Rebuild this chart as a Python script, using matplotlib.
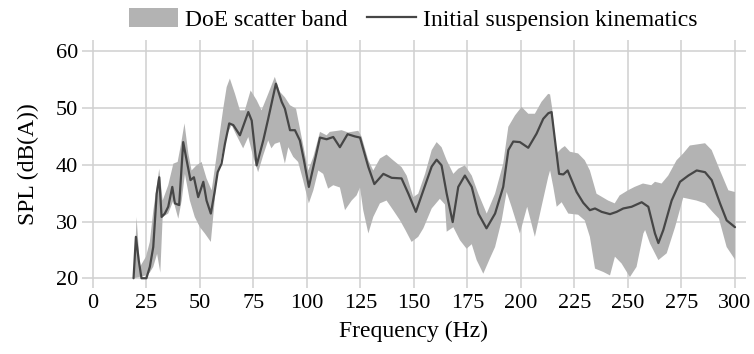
import numpy as np
import matplotlib
matplotlib.use("Agg")
import matplotlib.pyplot as plt
from matplotlib.patches import Patch
from matplotlib.lines import Line2D

# initial suspension kinematics (Hz, dB(A))
line_f = [19.0, 20.1, 21.4, 22.7, 25.0, 26.6, 28.2, 29.8, 31.0, 32.1, 33.6, 35.2, 37.1, 38.3,
          40.3, 42.2, 43.8, 45.6, 47.2, 49.2, 51.6, 53.1, 55.1, 57.0, 58.3, 60.1, 61.7, 63.7,
          65.6, 68.7, 72.6, 74.2, 76.5, 79.6, 81.9, 85.5, 88.2, 89.7, 92.1, 94.4, 96.7, 98.6,
          100.9, 103.0, 106.1, 109.2, 112.3, 115.4, 119.0, 122.4, 124.8, 128.7, 131.5, 135.7,
          139.6, 144.2, 147.4, 150.9, 154.4, 158.3, 160.6, 162.9, 165.3, 168.1, 170.7, 173.8,
          177.0, 180.1, 183.9, 187.9, 191.7, 194.1, 196.4, 199.5, 203.4, 207.3, 210.4, 212.8,
          214.3, 217.8, 219.8, 221.8, 226.0, 229.1, 232.2, 234.6, 237.7, 241.6, 244.7, 247.8,
          251.7, 256.4, 259.5, 262.6, 264.2, 266.5, 270.4, 274.3, 278.2, 282.1, 286.0, 289.1,
          293.0, 296.1, 300.0]
line_db = [20.0, 27.3, 23.2, 20.0, 20.0, 22.0, 25.5, 34.9, 37.8, 30.8, 31.4, 32.6, 36.1, 33.2,
           32.9, 44.0, 40.8, 37.3, 37.8, 34.3, 37.0, 33.7, 31.4, 35.5, 38.7, 40.2, 43.7, 47.3,
           47.0, 45.2, 49.3, 47.8, 39.9, 44.3, 48.1, 54.3, 51.1, 49.9, 46.1, 46.1, 44.3, 40.8,
           36.1, 39.6, 44.8, 44.5, 44.9, 43.1, 45.4, 45.0, 44.8, 39.6, 36.6, 38.4,
           37.7, 37.6, 34.9, 31.7, 35.5, 39.7, 40.9, 39.9, 34.9, 29.9, 36.1, 38.1,
           36.1, 31.4, 28.8, 31.4, 36.1, 42.6, 44.1, 44.0, 43.0, 45.5, 48.1, 49.1,
           49.3, 38.4, 38.3, 39.0, 35.2, 33.3, 32.0, 32.3, 31.7, 31.3, 31.7, 32.3,
           32.6, 33.4, 32.6, 27.9, 26.2, 28.5, 33.7, 37.0, 38.1, 39.0, 38.7, 37.3,
           33.2, 30.2, 29.0]

# DoE scatter band, upper edge
upper_f = [19.3, 20.4, 22.0, 24.8, 26.6, 28.2, 29.8, 31.0, 32.6, 35.2, 37.6, 39.6, 41.2, 42.8,
           44.6, 46.1, 48.4, 50.8, 53.1, 55.5, 58.6, 60.9, 62.5, 64.0, 66.4, 68.7, 71.0, 73.7,
           76.5, 78.8, 81.9, 85.0, 87.3, 89.7, 92.1, 94.9, 97.5, 100.6, 103.0, 106.1, 109.2,
           110.7, 116.2, 119.3, 124.0, 125.5, 128.7, 131.0, 134.1, 137.2, 140.3, 144.2, 146.6,
           149.7, 152.0, 155.2, 158.3, 160.6, 162.9, 165.3, 168.4, 170.7, 173.8, 177.0, 180.1,
           184.0, 187.9, 191.7, 194.1, 197.2, 200.3, 203.4, 206.5, 209.6, 212.7, 213.6, 214.6,
           216.6, 219.0, 220.5, 222.9, 226.7, 229.8, 232.2, 235.3, 240.7, 243.8, 246.1, 250.0,
           253.1, 257.0, 260.9, 262.6, 265.7, 268.8, 272.7, 275.8, 278.9, 286.0, 289.1, 293.0,
           296.9, 300.0]
upper_db = [20.0, 30.8, 22.0, 23.8, 26.4, 31.8, 36.1, 39.3, 33.7, 36.4, 40.2, 40.5, 43.7, 47.3,
            42.0, 39.0, 39.9, 40.5, 37.6, 35.5, 43.7, 49.9, 53.7, 55.2, 52.5, 49.6, 49.6, 53.1,
            51.4, 49.6, 52.5, 55.5, 52.9, 51.9, 50.5, 49.9, 44.9, 39.0, 41.4, 45.8, 45.2,
            45.8, 46.1, 45.7, 46.0, 45.0, 40.8, 39.0, 41.1, 41.8, 40.8, 39.6, 38.1,
            34.3, 34.9, 38.4, 42.6, 44.0, 43.1, 40.8, 38.4, 39.3, 39.9, 38.1, 34.9,
            31.4, 34.9, 40.2, 46.7, 48.7, 50.2, 49.0, 49.0, 51.1, 52.5, 52.4, 49.9,
            42.0, 42.9, 43.3, 42.3, 42.0, 40.8, 39.0, 34.9, 33.7, 33.2, 34.6, 35.5,
            36.1, 36.7, 36.4, 37.0, 36.7, 38.1, 40.8, 42.0, 43.4, 43.8, 42.6, 39.0,
            35.5, 35.2]

# DoE scatter band, lower edge
lower_f = [19.3, 24.8, 26.6, 28.2, 30.0, 31.5, 32.6, 35.2, 37.6, 39.9, 41.5, 43.0, 45.3, 47.6,
           50.0, 52.3, 55.1, 56.2, 57.8, 60.1, 62.5, 64.8, 67.1, 70.2, 72.6, 74.9, 77.2, 79.6,
           81.9, 83.4, 85.0, 87.3, 89.7, 91.3, 93.6, 95.9, 98.2, 100.9, 103.0, 105.3, 107.6,
           109.9, 112.3, 115.4, 117.8, 120.9, 123.2, 124.8, 126.3, 128.7, 131.0, 134.1, 137.2,
           140.3, 143.5, 146.0, 148.9, 152.0, 154.4, 158.3, 162.1, 164.5, 165.3, 168.4, 171.5,
           174.6, 177.0, 179.3, 182.4, 185.5, 187.9, 191.0, 193.3, 195.6, 199.5, 202.9, 206.5,
           209.6, 212.7, 213.6, 215.1, 216.7, 219.0, 222.1, 226.7, 229.8, 232.2, 234.6, 238.5,
           241.6, 243.9, 247.0, 250.9, 254.0, 257.2, 258.0, 260.3, 264.2, 268.1, 272.0, 275.8,
           282.0, 286.0, 289.5, 292.5, 296.1, 300.0]
lower_db = [20.0, 20.5, 21.0, 22.0, 24.3, 21.0, 30.8, 31.4, 33.7, 30.5, 33.7, 38.4, 33.7, 30.8,
            29.0, 27.9, 26.4, 30.8, 37.3, 41.4, 45.2, 47.0, 45.2, 42.9, 44.9, 41.4, 38.7, 41.7,
            44.3, 42.9, 43.7, 44.0, 40.2, 43.1, 41.4, 40.5, 37.3, 33.2, 35.5, 39.0, 38.4,
            35.8, 36.4, 36.0, 32.0, 33.7, 34.6, 36.0, 32.0, 27.9, 30.8, 33.2, 33.7,
            32.0, 30.2, 28.5, 26.4, 27.3, 28.8, 32.3, 34.0, 33.0, 28.2, 29.0, 26.7,
            25.2, 26.0, 23.2, 20.8, 23.5, 25.5, 30.2, 35.2, 32.6, 27.9, 32.6, 27.3,
            32.6, 37.8, 39.0, 36.1, 32.6, 33.4, 31.4, 31.2, 30.2, 27.3, 21.7, 21.1,
            20.5, 23.8, 22.6, 20.2, 22.0, 27.9, 28.5, 26.1, 23.2, 24.4, 29.0, 34.2,
            33.7, 33.2, 31.7, 30.5, 25.5, 23.3]

xticks = list(range(0, 301, 25))
yticks = [20, 30, 40, 50, 60]

plt.rcParams['font.family'] = ['Liberation Serif', 'DejaVu Serif']

fig = plt.figure(figsize=(7.54, 3.54), dpi=100)
ax = fig.add_axes([0.109, 0.186, 0.880, 0.701])

band_x = upper_f + lower_f[::-1]
band_y = upper_db + lower_db[::-1]
ax.fill(band_x, band_y, color='#b3b3b3', lw=0, zorder=2)
ax.plot(line_f, line_db, color='#464646', lw=1.6, zorder=3,
        solid_joinstyle='round', solid_capstyle='round')

ax.set_xlim(-5, 305)
ax.set_ylim(18.25, 62)
ax.set_xticks(xticks)
ax.set_yticks(yticks)
ax.grid(True, color='#d0d0d0', lw=1.1, zorder=0)
ax.set_axisbelow(True)
ax.tick_params(length=0, labelsize=16)
ax.tick_params(axis='x', pad=4)
ax.tick_params(axis='y', pad=3)
for s in ax.spines.values():
    s.set_visible(False)

ax.set_xlabel('Frequency (Hz)', fontsize=17, labelpad=6)
ax.set_ylabel('SPL (dB(A))', fontsize=17, labelpad=12)

handles = [Patch(facecolor='#b3b3b3', edgecolor='none'),
           Line2D([], [], color='#464646', lw=1.6)]
fig.legend(handles, ['DoE scatter band', 'Initial suspension kinematics'],
           loc='center', bbox_to_anchor=(0.548, 0.945), ncol=2, frameon=False,
           fontsize=17, handlelength=2.1, handleheight=0.85, handletextpad=0.3,
           columnspacing=0.8, borderpad=0)

fig.savefig('out.png', dpi=100)
